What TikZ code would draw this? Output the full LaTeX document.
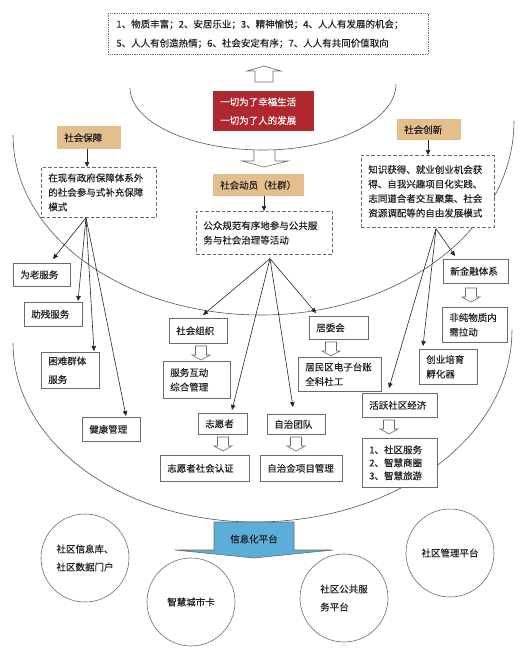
\documentclass[tikz,border=0pt]{standalone}
\usepackage{fontspec}
\setmainfont{Noto Sans CJK SC}[FakeBold=0.3]
\usetikzlibrary{arrows.meta,calc}
\definecolor{bordergray}{HTML}{6A6A6A}
\definecolor{tanfill}{HTML}{E3BF8D}
\definecolor{redfill}{HTML}{B0282F}
\definecolor{bluefill}{HTML}{5BAED8}
\definecolor{txt}{HTML}{222222}
\definecolor{linegray}{HTML}{555555}
\begin{document}
\begin{tikzpicture}[x=1pt,y=-1pt,
  every node/.style={text=txt},
  base/.style={anchor=north west, inner xsep=7pt, inner ysep=0pt, align=left, font=\fontsize{9.5}{14.5}\selectfont},
  bx/.style={base, draw=bordergray, line width=0.6pt, fill=white},
  dbx/.style={base, draw=bordergray, line width=0.7pt, dash pattern=on 3.5pt off 2pt, fill=white},
  tanbx/.style={base, fill=tanfill},
  loose/.style={font=\fontsize{9.5}{18.5}\selectfont},
  list/.style={font=\fontsize{9.5}{13}\selectfont},
  circ/.style={circle, draw=bordergray, line width=0.6pt, minimum size=88pt, inner sep=0pt, align=left, font=\fontsize{9.5}{18}\selectfont},
  bowl/.style={draw=linegray, line width=0.6pt},
  arr/.style={draw=black!85, line width=0.6pt, -{Triangle[length=5pt,width=4.5pt]}},
  hollow/.style={draw=bordergray, line width=0.6pt, fill=white},
  hollowdown/.pic={\draw[hollow] (-5.5,0) -- (5.5,0) -- (5.5,9) -- (9,9) -- (0,14) -- (-9,9) -- (-5.5,9) -- cycle;}
]
\useasboundingbox (0,0) rectangle (527,654);

% bowls
\draw[bowl] (130,88) .. controls (130,122) and (190,150) .. (263,150) .. controls (336,150) and (396,120) .. (396,84);
\draw[bowl] (13,135) .. controls (13,235) and (124,315) .. (261,315) .. controls (400,315) and (514,229) .. (514,121);
\draw[bowl] (13,343) .. controls (13,442) and (121,522) .. (255,522) .. controls (397,522) and (512,436) .. (512,330);

% top box
\node[base, draw=bordergray, line width=0.8pt, densely dotted, text width=304pt, inner xsep=8pt, minimum height=41pt, font=\fontsize{9.5}{19}\selectfont] (goals) at (108,13)
  {1、物质丰富；2、安居乐业；3、精神愉悦；4、人人有发展的机会；\\5、人人有创造热情；6、社会安定有序；7、人人有共同价值取向};

% big hollow arrows
\draw[hollow] (255,82) -- (273,82) -- (273,71) -- (281,71) -- (264,66) -- (247,71) -- (255,71) -- cycle;
\draw[hollow, fill=none] (254,150) -- (254,161) -- (242,161) -- (264,167) -- (288,161) -- (275,161) -- (275,150);

% red box
\node[base, fill=redfill, text width=87pt, inner xsep=7pt, minimum height=40pt, font=\fontsize{9.5}{18.5}\selectfont, text=white] (core) at (213,91)
  {一切为了幸福生活\\一切为了人的发展};

% tan boxes
\node[tanbx, text width=50pt, minimum height=23pt] (sb) at (57,126) {社会保障};
\node[tanbx, text width=77pt, minimum height=22pt] (sd) at (213,174) {社会动员（社群）};
\node[tanbx, text width=50pt, minimum height=21pt] (sc) at (397,119) {社会创新};

% dashed boxes
\node[dbx, text width=101pt, minimum height=50pt] (lds) at (41,167) {在现有政府保障体系外\\的社会参与式补充保障\\模式};
\node[dbx, text width=122pt, minimum height=43pt] (mds) at (196,211) {公众规范有序地参与公共服\\务与社会治理等活动};
\node[dbx, text width=119pt, minimum height=72pt] (rds) at (361,155) {知识获得、就业创业机会获\\得、自我兴趣项目化实践、\\志同道合者交互聚集、社会\\资源调配等的自由发展模式};

% left boxes
\node[bx, text width=43pt, minimum height=23pt] (wl) at (13,263) {为老服务};
\node[bx, text width=44pt, minimum height=24pt] (zc) at (24,302) {助残服务};
\node[bx, loose, text width=44pt, minimum height=36pt] (kn) at (41,352) {困难群体\\服务};
\node[bx, text width=44pt, minimum height=24pt] (jk) at (82,417) {健康管理};

% middle boxes
\node[bx, text width=44pt, minimum height=25pt] (so) at (169,318) {社会组织};
\node[bx, text width=53pt, minimum height=37pt] (fw) at (163,361) {服务互动\\综合管理};
\node[bx, text width=45pt, minimum height=23pt] (jw) at (309,316) {居委会};
\node[bx, text width=69pt, minimum height=34pt] (jm) at (298,357) {居民区电子台账\\全科社工};
\node[bx, text width=35pt, minimum height=21pt] (zy) at (198,413) {志愿者};
\node[bx, text width=44pt, minimum height=20pt] (zz) at (267,414) {自治团队};
\node[bx, text width=75pt, minimum height=26pt] (rz) at (160,455) {志愿者社会认证};
\node[bx, text width=68pt, minimum height=26pt] (zj) at (260,455) {自治金项目管理};

% right boxes
\node[bx, text width=51pt, minimum height=24pt] (xj) at (443,259) {新金融体系};
\node[bx, text width=51pt, minimum height=35pt] (fc) at (442,307) {非纯物质内\\需拉动};
\node[bx, text width=44pt, minimum height=35pt] (cy) at (419,349) {创业培育\\孵化器};
\node[bx, text width=61pt, minimum height=24pt] (hy) at (362,393) {活跃社区经济};
\node[bx, list, text width=61pt, minimum height=49pt] (ls) at (362,438) {1、社区服务\\2、智慧商圈\\3、智慧旅游};

% small hollow arrows
\pic at (201,346) {hollowdown};
\pic at (331,342) {hollowdown};
\pic at (223,437) {hollowdown};
\pic at (296,437) {hollowdown};
\pic at (389,420) {hollowdown};
\pic at (471,288) {hollowdown};

% tan -> dashed connectors
\coordinate (sbout) at ([xshift=30pt]sb.south west);
\coordinate (sdout) at ([xshift=51pt]sd.south west);
\coordinate (scout) at ([xshift=31pt]sc.south west);
\draw[arr] (sbout) -- (sbout |- lds.north);
\draw[arr] (sdout) -- (sdout |- mds.north);
\draw[arr] (scout) -- (scout |- rds.north);

% fans
\coordinate (lf) at ([xshift=45pt]lds.south west);
\coordinate (mf) at ([xshift=74pt,yshift=-4pt]mds.south west);
\coordinate (rf) at ([xshift=75pt,yshift=-1pt]rds.south west);

\draw[arr] (lf) -- ([xshift=40pt,yshift=4pt]wl.north west);
\draw[arr] (lf) -- ([xshift=54pt,yshift=1pt]zc.north west);
\draw[arr] (lf) -- ([xshift=53pt,yshift=1pt]kn.north west);
\draw[arr] (lf) -- ([xshift=44pt,yshift=1pt]jk.north west);

\draw[arr] (mf) -- ([xshift=34pt,yshift=3pt]so.north west);
\draw[arr] (mf) -- ([xshift=34pt,yshift=3pt]zy.north west);
\draw[arr] (mf) -- ([xshift=26pt,yshift=7pt]zz.north west);
\draw[arr] (mf) -- ([xshift=7pt,yshift=3pt]jw.north west);

\draw[arr] (rf) -- ([xshift=12pt,yshift=3pt]xj.north west);
\draw[arr] (rf) -- ([xshift=4pt,yshift=3pt]cy.north west);
\draw[arr] (rf) -- ([xshift=27pt,yshift=5pt]hy.north west);

% blue arrow
\draw[fill=bluefill, draw=bordergray, line width=0.6pt] (214,522) -- (294,522) -- (294,550) -- (333,550) -- (254,558) -- (175,550) -- (214,550) -- cycle;
\node[font=\fontsize{9.5}{12}\selectfont] (xx) at (254,539) {信息化平台};

% circles
\node[circ] (c1) at (85,558) {社区信息库、\\社区数据门户};
\node[circ] (c2) at (191,602) {智慧城市卡};
\node[circ] (c3) at (344,598) {社区公共服\\务平台};
\node[circ] (c4) at (450,553) {社区管理平台};
\end{tikzpicture}
\end{document}
